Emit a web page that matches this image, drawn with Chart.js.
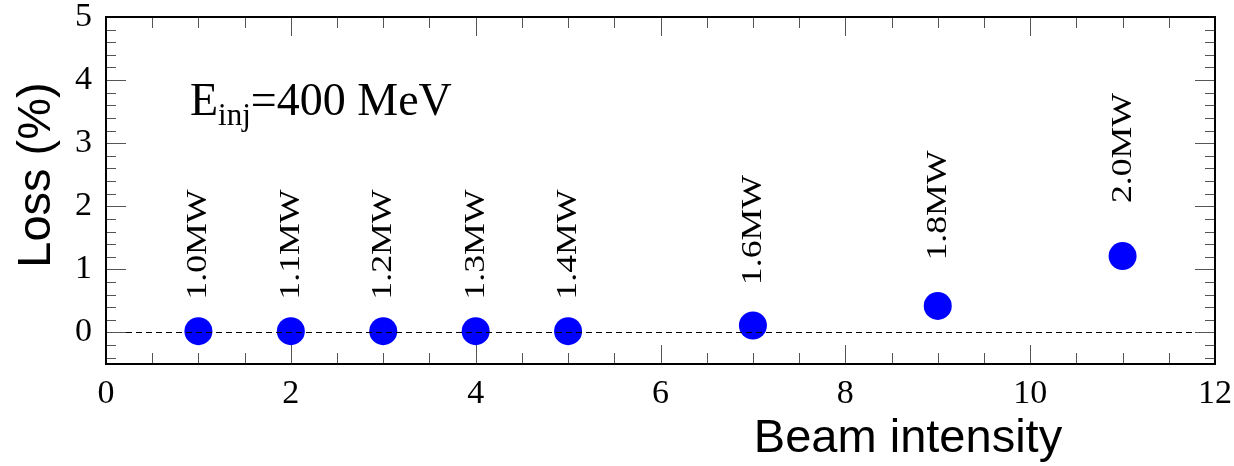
<!DOCTYPE html>
<html>
<head>
<meta charset="utf-8">
<script src="https://cdn.jsdelivr.net/npm/chart.js@4.4.1/dist/chart.umd.min.js"></script>
<style>
  html, body { margin: 0; padding: 0; background: #ffffff; }
  #wrap { width: 1234px; height: 466px; position: relative; }
</style>
</head>
<body>
<div id="wrap"><canvas id="c" width="1234" height="466"></canvas></div>
<script>
// Beam intensity steps and measured loss
const intensity = [1, 2, 3, 4, 5, 7, 9, 11];
const lossPct   = [0.02, 0.02, 0.02, 0.02, 0.02, 0.11, 0.42, 1.21];
const powerLabels = ['1.0MW', '1.1MW', '1.2MW', '1.3MW', '1.4MW', '1.6MW', '1.8MW', '2.0MW'];
// data-space height where each power label starts
const labelAt = [0.52, 0.52, 0.52, 0.52, 0.52, 0.75, 1.14, 2.05];

const xTickValues = [0, 2, 4, 6, 8, 10, 12];
const yTickValues = [0, 1, 2, 3, 4, 5];
const xRange = [0, 12];
const yRange = [-0.5, 5];

const SERIF = '"Liberation Serif", "Times New Roman", serif';
const SANS = '"Liberation Sans", Arial, Helvetica, sans-serif';

// keep the plot area fixed: no extra room for overhanging tick labels
function noScalePadding(s) {
  s.paddingTop = 0; s.paddingBottom = 0; s.paddingLeft = 0; s.paddingRight = 0;
}

// Frame with inward ticks on all four sides, zero line, annotations and titles
const framePlugin = {
  id: 'frame',
  afterDatasetsDraw(chart) {
    const { ctx, chartArea: a, scales: { x, y } } = chart;
    ctx.save();

    // dashed reference line at zero loss
    ctx.strokeStyle = '#000';
    ctx.lineWidth = 1.2;
    ctx.setLineDash([6, 4]);
    const y0 = Math.round(y.getPixelForValue(0)) + 0.5;
    ctx.beginPath();
    ctx.moveTo(a.left, y0);
    ctx.lineTo(a.right, y0);
    ctx.stroke();
    ctx.setLineDash([]);

    // tick marks
    ctx.strokeStyle = '#555';
    ctx.lineWidth = 1;
    const xMajorLen = 19, xMinorLen = 11, yMajorLen = 20, yMinorLen = 10;
    for (let v = xRange[0]; v <= xRange[1] + 1e-9; v += 0.5) {
      const px = Math.round(x.getPixelForValue(v)) + 0.5;
      const major = Math.abs(v / 2 - Math.round(v / 2)) < 1e-6;
      const len = major ? xMajorLen : xMinorLen;
      ctx.beginPath();
      ctx.moveTo(px, a.bottom); ctx.lineTo(px, a.bottom - len);
      ctx.moveTo(px, a.top); ctx.lineTo(px, a.top + len);
      ctx.stroke();
    }
    for (let i = -2; i <= 25; i++) {
      const v = i * 0.2;
      const py = Math.round(y.getPixelForValue(v)) + 0.5;
      const major = i % 5 === 0;
      const len = major ? yMajorLen : yMinorLen;
      ctx.beginPath();
      ctx.moveTo(a.left, py); ctx.lineTo(a.left + len, py);
      ctx.moveTo(a.right, py); ctx.lineTo(a.right - len, py);
      ctx.stroke();
    }

    // frame
    ctx.strokeStyle = '#000';
    ctx.lineWidth = 2;
    ctx.strokeRect(a.left, a.top, a.right - a.left, a.bottom - a.top);

    // power labels above each point, reading upwards
    ctx.fillStyle = '#000';
    ctx.font = '30px ' + SERIF;
    ctx.textAlign = 'left';
    ctx.textBaseline = 'alphabetic';
    intensity.forEach((xv, i) => {
      const px = x.getPixelForValue(xv) + 8;
      const py = y.getPixelForValue(labelAt[i]);
      ctx.save();
      ctx.translate(px, py);
      ctx.rotate(-Math.PI / 2);
      ctx.scale(1.19, 1);
      ctx.fillText(powerLabels[i], 0, 0);
      ctx.restore();
    });

    // injection energy note
    ctx.textAlign = 'left';
    ctx.font = '46px ' + SERIF;
    let tx = 190;
    ctx.fillText('E', tx, 115);
    tx += ctx.measureText('E').width;
    ctx.font = '31px ' + SERIF;
    ctx.fillText('inj', tx, 125);
    tx += ctx.measureText('inj').width;
    ctx.font = '46px ' + SERIF;
    ctx.fillText('=400 MeV', tx, 115);

    // axis titles
    ctx.font = '47px ' + SANS;
    ctx.textAlign = 'center';
    ctx.fillText('Beam intensity', 908, 452);
    ctx.save();
    ctx.translate(50, 175);
    ctx.rotate(-Math.PI / 2);
    ctx.fillText('Loss (%)', 0, 0);
    ctx.restore();

    ctx.restore();
  }
};

new Chart(document.getElementById('c'), {
  type: 'scatter',
  data: {
    datasets: [{
      data: intensity.map((v, i) => ({ x: v, y: lossPct[i] })),
      backgroundColor: '#0000ff',
      borderWidth: 0,
      pointRadius: 14,
      pointHoverRadius: 14
    }]
  },
  options: {
    responsive: false,
    animation: false,
    events: [],
    layout: { padding: { top: 17, right: 19, left: 0, bottom: 0 } },
    plugins: { legend: { display: false }, tooltip: { enabled: false } },
    scales: {
      x: {
        type: 'linear',
        min: xRange[0], max: xRange[1],
        afterBuildTicks: s => { s.ticks = xTickValues.map(v => ({ value: v })); },
        afterFit: s => { s.height = 102; noScalePadding(s); },
        grid: { display: false, drawTicks: false },
        border: { display: false },
        ticks: {
          color: '#000', padding: 10, maxRotation: 0,
          font: { family: SERIF, size: 34 },
          callback: v => String(v)
        }
      },
      y: {
        type: 'linear',
        min: yRange[0], max: yRange[1],
        afterBuildTicks: s => { s.ticks = yTickValues.map(v => ({ value: v })); },
        afterFit: s => { s.width = 106; noScalePadding(s); },
        grid: { display: false, drawTicks: false },
        border: { display: false },
        ticks: {
          color: '#000', padding: 14,
          font: { family: SERIF, size: 34 },
          callback: v => String(v)
        }
      }
    }
  },
  plugins: [framePlugin]
});
</script>
</body>
</html>
